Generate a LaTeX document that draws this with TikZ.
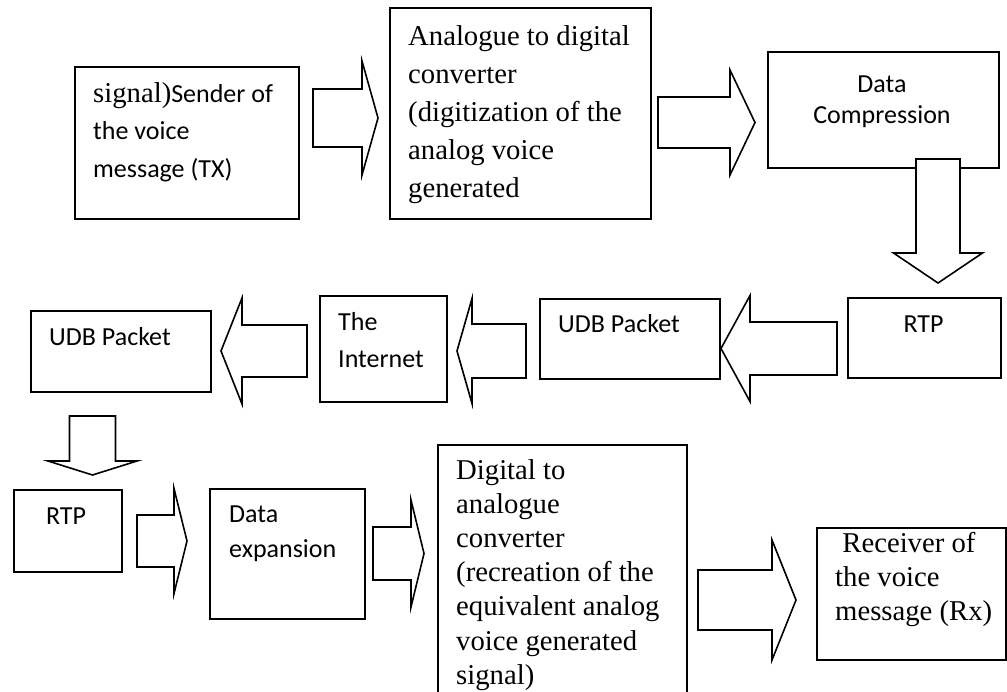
\documentclass[tikz,border=0pt]{standalone}
\usepackage{fontspec}
\setmainfont{Liberation Serif}
\newfontfamily\calfam{Carlito}
\newcommand\tms{\fontsize{28.7pt}{34pt}\selectfont\rmfamily}
\newcommand\cbr{\fontsize{26pt}{31pt}\selectfont\calfam}
\newcommand\txtL[2]{\vtop{\baselineskip=#1pt\lineskip=0pt\lineskiplimit=-100pt\halign{##\hfil\cr#2\crcr}}}
\newcommand\txtC[2]{\vtop{\baselineskip=#1pt\lineskip=0pt\lineskiplimit=-100pt\halign{\hfil##\hfil\cr#2\crcr}}}
% horizontal block arrow: shaft end, head base, tip, centre y, shaft half, head half
\newcommand\harrow[6]{\draw[blk] (#1,#4-#5) -- (#2,#4-#5) -- (#2,#4-#6) -- (#3,#4) -- (#2,#4+#6) -- (#2,#4+#5) -- (#1,#4+#5) -- cycle;}
% vertical block arrow: shaft end, head base, tip, centre x, shaft half, head half
\newcommand\varrow[6]{\draw[blk] (#4-#5,#1) -- (#4-#5,#2) -- (#4-#6,#2) -- (#4,#3) -- (#4+#6,#2) -- (#4+#5,#2) -- (#4+#5,#1) -- cycle;}
\begin{document}
\begin{tikzpicture}[x=1pt,y=-1pt,
  box/.style={draw, line width=1.6pt, fill=white, inner sep=0pt, anchor=north west},
  blk/.style={draw, line width=1.6pt, fill=white, line join=miter},
  txt/.style={inner sep=0pt, text=black}]
\useasboundingbox (0,0) rectangle (1007,691);
\clip (0,0) rectangle (1007,691);
\fill[white] (0,0) rectangle (1007,691);

% boxes
\node[box, minimum width=224pt, minimum height=152pt] (sender) at (74,66) {};
\node[box, minimum width=261pt, minimum height=211pt] (adc) at (389,7) {};
\node[box, minimum width=231pt, minimum height=116pt] (dc) at (767,51) {};
\node[box, minimum width=153pt, minimum height=80pt] (rtpA) at (847,297) {};
\node[box, minimum width=180pt, minimum height=80pt] (udbA) at (539,298) {};
\node[box, minimum width=127pt, minimum height=106pt] (inet) at (319,295) {};
\node[box, minimum width=180pt, minimum height=81pt] (udbB) at (30,310) {};
\node[box, minimum width=108pt, minimum height=82pt] (rtpB) at (13,489) {};
\node[box, minimum width=155pt, minimum height=130pt] (dexp) at (209,488) {};
\node[box, minimum width=249pt, minimum height=260pt] (dac) at (437,444) {};
\node[box, minimum width=189pt, minimum height=132pt] (rx) at (816,527) {};

% texts
\node[txt, font=\cbr, anchor=base west] (senderT) at (93,102)
  {\txtL{37.5}{{\tms signal)}Sender of\cr the voice\cr message (TX)}};
\node[txt, font=\tms, anchor=base west] (adcT) at (408,45)
  {\txtL{38}{Analogue to digital\cr converter\cr (digitization of the\cr analog voice\cr generated}};
\node[txt, font=\cbr, anchor=base] (dcT) at (882,92)
  {\txtC{31}{Data\cr Compression}};
\node[txt, font=\cbr, anchor=base] (rtpAT) at (923.5,332) {RTP};
\node[txt, font=\cbr, anchor=base west] (udbAT) at (558,332) {UDB Packet};
\node[txt, font=\cbr, anchor=base west] (inetT) at (338,330)
  {\txtL{37}{The\cr Internet}};
\node[txt, font=\cbr, anchor=base west] (udbBT) at (49,345) {UDB Packet};
\node[txt, font=\cbr, anchor=base] (rtpBT) at (66,524) {RTP};
\node[txt, font=\cbr, anchor=base west] (dexpT) at (229,522)
  {\txtL{35}{Data\cr expansion}};
\node[txt, font=\tms, anchor=base west] (dacT) at (456,479)
  {\txtL{34.2}{Digital to\cr analogue\cr converter\cr (recreation of the\cr equivalent analog\cr voice generated\cr signal)}};
\node[txt, font=\tms, anchor=base west] (rxT) at (835,552)
  {\txtL{34}{\ Receiver of\cr the voice\cr message (Rx)}};

% block arrows between the boxes
\harrow{313}{362}{378}{118}{29}{57}       % sender -> adc
\harrow{658}{730}{755}{122.5}{25.5}{52.5} % adc -> dc
\varrow{159}{253}{283}{938}{22}{44.5}     % dc -> rtpA
\harrow{837}{750}{721}{348.5}{26.5}{53}   % rtpA -> udbA
\harrow{526}{472}{457}{351}{27}{52.5}     % udbA -> inet
\harrow{307}{242}{221}{351}{26}{53}       % inet -> udbB
\varrow{416}{461}{475}{92.5}{23}{44.5}    % udbB -> rtpB
\harrow{137}{174}{187}{541}{26}{52.5}     % rtpB -> dexp
\harrow{373}{411}{424}{553.5}{26.5}{53.5} % dexp -> dac
\harrow{698}{772}{796}{600}{30}{60}       % dac -> rx
\end{tikzpicture}
\end{document}
